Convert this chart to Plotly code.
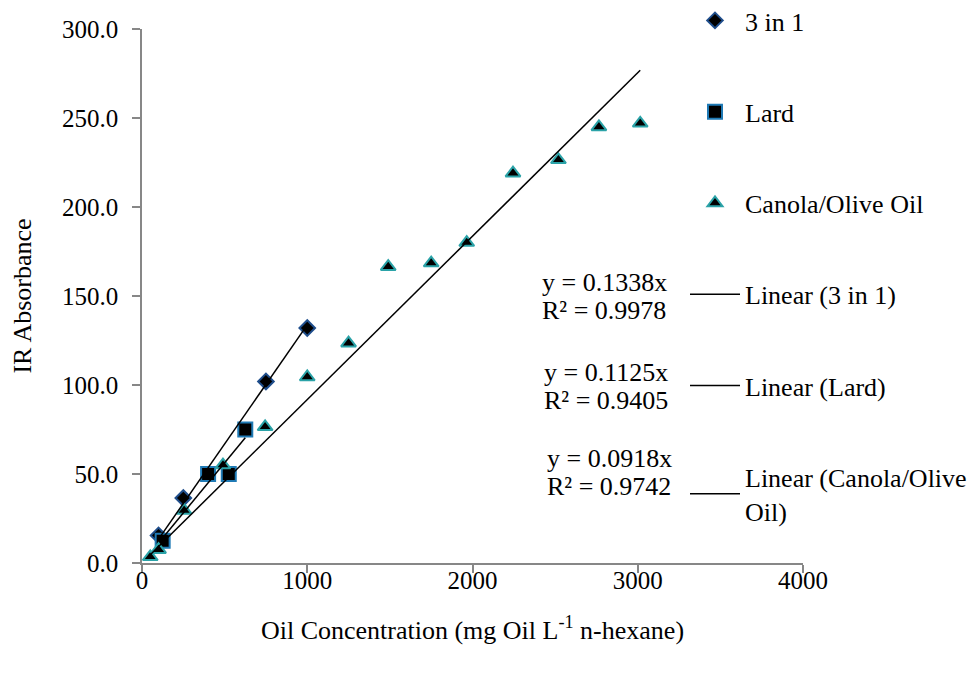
import plotly.graph_objects as go

# ---- data ----
x_3in1 = [100, 250, 750, 1000]
y_3in1 = [15.5, 36.5, 102.0, 132.0]

x_lard = [125, 400, 525, 625]
y_lard = [12.5, 50.0, 50.0, 75.0]

x_canola = [50, 100, 255, 490, 745, 1000, 1250, 1490, 1750, 1965, 2245, 2520, 2765, 3015]
y_canola = [3.5, 7.5, 29.5, 55.0, 76.5, 104.5, 123.5, 166.5, 168.5, 180.0, 219.0, 226.5, 245.0, 247.0]

series_names = ["3 in 1", "Lard", "Canola/Olive Oil"]
slopes = [0.1338, 0.1125, 0.0918]
r2_values = [0.9978, 0.9405, 0.9742]
trend_names = ["Linear (3 in 1)", "Linear (Lard)", "Linear (Canola/Olive<br>Oil)"]

x_ticks = [0, 1000, 2000, 3000, 4000]
y_ticks = [0, 50, 100, 150, 200, 250, 300]

FONT = "Liberation Serif, Times New Roman, serif"
W, H = 979, 673
OFF = 8  # page body margin: screen px = figure px + 8
L, T = 142 - OFF, 29 - OFF
PW, PH = 661, 534
R, B = W - L - PW, H - T - PH


def px_to_paper(sx, sy):
    """screen pixel (reference picture) -> paper coordinates"""
    return (sx - OFF - L) / PW, 1 - (sy - OFF - T) / PH


fig = go.Figure()

xs = [x_3in1, x_lard, x_canola]
ys = [y_3in1, y_lard, y_canola]
symbols = ["diamond", "square", "triangle-up"]
edge = ["#1F4E8C", "#1F7AB5", "#2BA3A8"]
sizes = [12, 14, 13]

for i in range(3):
    fig.add_trace(go.Scatter(
        x=xs[i], y=ys[i], mode="markers", name=series_names[i],
        legendgroup=f"g{i}",
        marker=dict(symbol=symbols[i], size=sizes[i], color="#000000",
                    line=dict(color=edge[i], width=2)),
        cliponaxis=False,
    ))

for i in range(3):
    x0, x1 = min(xs[i]), max(xs[i])
    fig.add_trace(go.Scatter(
        x=[x0, x1], y=[slopes[i] * x0, slopes[i] * x1], mode="lines",
        name=trend_names[i], legendgroup=f"t{i}",
        line=dict(color="#000000", width=1.5),
    ))

eq_pos = [(604, 282, 310), (606, 372, 400), (609, 458, 486)]
for i in range(3):
    sx, sy1, sy2 = eq_pos[i]
    for txt, sy in ((f"y = {slopes[i]:.4f}x", sy1), (f"R² = {r2_values[i]:.4f}", sy2)):
        ax, ay = px_to_paper(sx, sy)
        fig.add_annotation(
            xref="paper", yref="paper", x=ax, y=ay,
            xanchor="center", yanchor="middle",
            text=txt, showarrow=False,
            font=dict(family=FONT, size=26, color="#000000"),
        )

axis_common = dict(
    showgrid=False, zeroline=False, showline=True, linecolor="#878787", linewidth=1.5,
    ticks="outside", tickcolor="#878787", ticklen=8, tickwidth=1.5,
    tickfont=dict(family=FONT, size=25, color="#000000"),
)

leg_x, _ = px_to_paper(685, 0)
leg_top_fig = -11
fig.update_layout(
    width=W, height=H,
    margin=dict(l=L, r=R, t=T, b=B, autoexpand=False),
    paper_bgcolor="white", plot_bgcolor="white",
    font=dict(family=FONT, size=26, color="#000000"),
    xaxis=dict(range=[0, 4000], tickvals=x_ticks, ticktext=[str(v) for v in x_ticks],
               ticklabelstandoff=-14,
               title=dict(text="Oil Concentration (mg Oil L<sup>-1</sup> n-hexane)",
                          font=dict(family=FONT, size=26), standoff=28),
               **axis_common),
    yaxis=dict(range=[0, 300], tickvals=y_ticks, ticktext=[f"{v:.1f}" for v in y_ticks],
               ticklabelstandoff=9,
               title=dict(text="IR Absorbance", font=dict(family=FONT, size=26), standoff=34),
               **axis_common),
    legend=dict(x=leg_x, y=1 + (T - leg_top_fig) / PH,
                xanchor="left", yanchor="top", maxheight=700,
                itemwidth=50,
                bgcolor="rgba(0,0,0,0)", tracegroupgap=54.5,
                font=dict(family=FONT, size=26, color="#000000")),
    showlegend=True,
)

fig.write_html("out.html")
